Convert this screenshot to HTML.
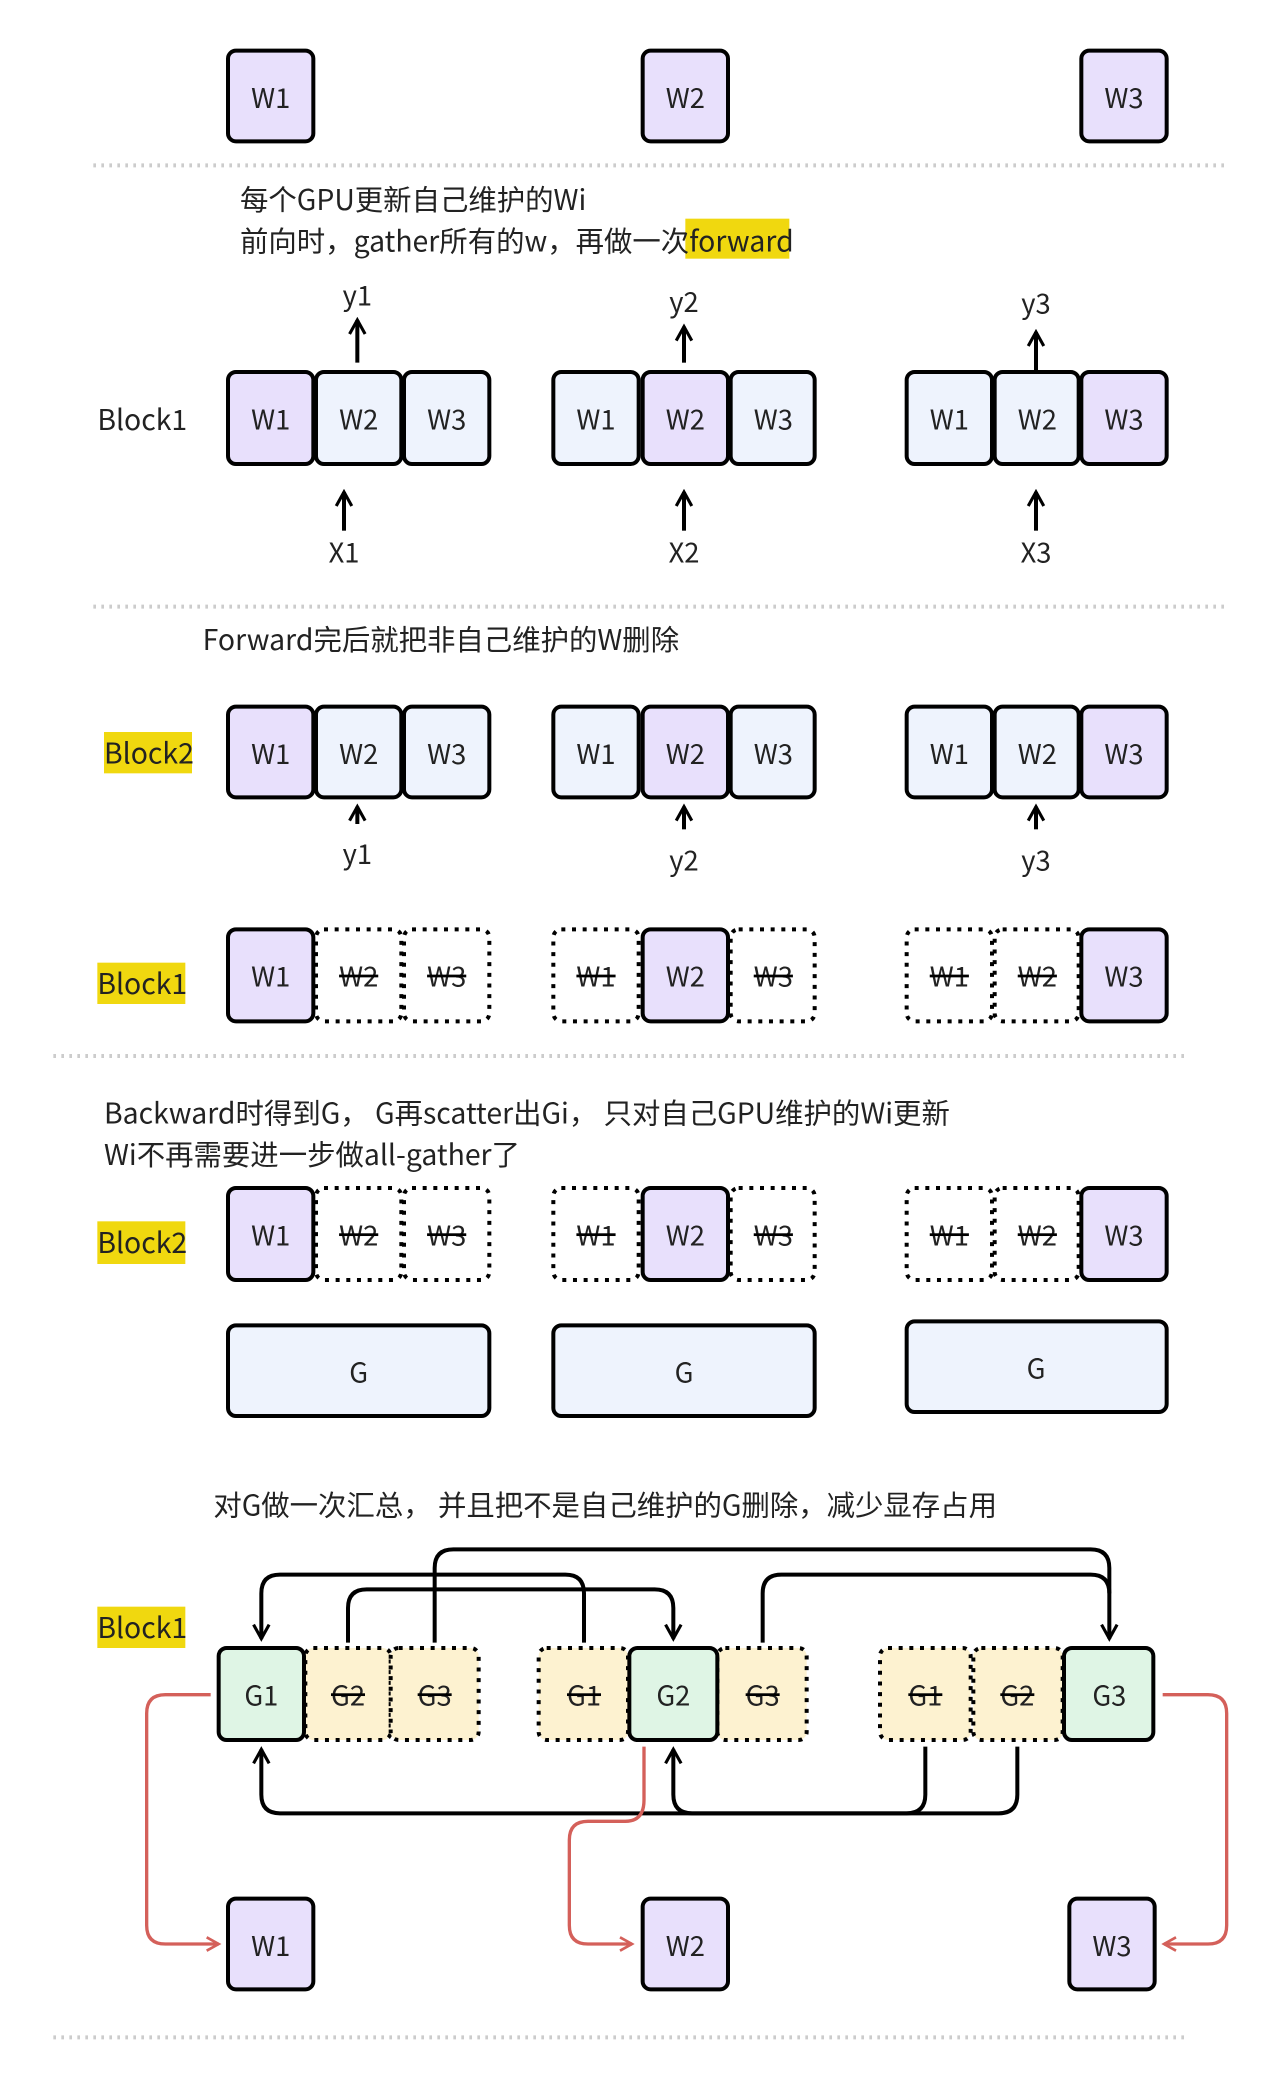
<!DOCTYPE html>
<html><head><meta charset="utf-8"><style>
html,body{margin:0;padding:0;background:#fff;}
svg{display:block;}
text{font-family:"Noto Sans CJK SC","Liberation Sans",sans-serif;fill:#222;}
</style></head><body>
<svg width="1288" height="2082" viewBox="0 0 966 1561.5" xmlns="http://www.w3.org/2000/svg">
<defs>
<marker id="ar" viewBox="0 0 12 12" refX="10" refY="6" markerWidth="12" markerHeight="12" orient="auto" markerUnits="userSpaceOnUse"><path d="M1,1 L10,6 L1,11" fill="none" stroke="#d4605a" stroke-width="2"/></marker>
<marker id="ak" viewBox="0 0 12 12" refX="10" refY="6" markerWidth="14" markerHeight="14" orient="auto" markerUnits="userSpaceOnUse"><path d="M1,1 L10,6 L1,11" fill="none" stroke="#000" stroke-width="2"/></marker>
</defs>
<g stroke="#ccc" stroke-width="3" stroke-dasharray="2,4">
<line x1="70" y1="124" x2="922" y2="124"/>
<line x1="70" y1="455" x2="922" y2="455"/>
<line x1="40" y1="792" x2="892" y2="792"/>
<line x1="40" y1="1528" x2="892" y2="1528"/>
</g>
<g font-size="20.5" text-anchor="middle" dominant-baseline="central">
<g stroke="#000" stroke-width="3">
<rect x="171" y="38" width="64" height="68" rx="6" fill="#e8e0fc"/>
<rect x="482" y="38" width="64" height="68" rx="6" fill="#e8e0fc"/>
<rect x="811" y="38" width="64" height="68" rx="6" fill="#e8e0fc"/>
</g>
<text x="203" y="72">W1</text><text x="514" y="72">W2</text><text x="843" y="72">W3</text>

<rect x="514" y="164" width="78" height="30" fill="#f0d80f"/>
<g font-size="21.3">
<text x="180" y="149" text-anchor="start">每个GPU更新自己维护的Wi</text>
<text x="180" y="180" text-anchor="start">前向时，gather所有的w，再做一次forward</text>
<text x="73" y="314" text-anchor="start">Block1</text>
</g>
<g stroke="#000" stroke-width="3">
<rect x="171" y="279" width="64" height="69" rx="6" fill="#e8e0fc"/>
<rect x="237" y="279" width="64" height="69" rx="6" fill="#eef3fd"/>
<rect x="303" y="279" width="64" height="69" rx="6" fill="#eef3fd"/>
<rect x="415" y="279" width="64" height="69" rx="6" fill="#eef3fd"/>
<rect x="482" y="279" width="64" height="69" rx="6" fill="#e8e0fc"/>
<rect x="548" y="279" width="63" height="69" rx="6" fill="#eef3fd"/>
<rect x="680" y="279" width="64" height="69" rx="6" fill="#eef3fd"/>
<rect x="746" y="279" width="63" height="69" rx="6" fill="#eef3fd"/>
<rect x="811" y="279" width="64" height="69" rx="6" fill="#e8e0fc"/>
</g>
<text x="203" y="313">W1</text><text x="269" y="313">W2</text><text x="335" y="313">W3</text>
<text x="447" y="313">W1</text><text x="514" y="313">W2</text><text x="580" y="313">W3</text>
<text x="712" y="313">W1</text><text x="778" y="313">W2</text><text x="843" y="313">W3</text>
<g stroke="#000" stroke-width="3" marker-end="url(#ak)">
<line x1="268" y1="272" x2="268" y2="240"/>
<line x1="513" y1="272" x2="513" y2="245"/>
<line x1="777" y1="279" x2="777" y2="249"/>
<line x1="258" y1="398" x2="258" y2="369"/>
<line x1="513" y1="398" x2="513" y2="369"/>
<line x1="777" y1="398" x2="777" y2="369"/>
</g>
<text x="268" y="220">y1</text><text x="513" y="225">y2</text><text x="777" y="226">y3</text>
<text x="258" y="413">X1</text><text x="513" y="413">X2</text><text x="777" y="413">X3</text>

<g font-size="21.3">
<text x="152" y="479" text-anchor="start">Forward完后就把非自己维护的W删除</text>
</g>
<rect x="78" y="549" width="66" height="31" fill="#f0d80f"/>
<text x="78" y="564" text-anchor="start" font-size="21.3">Block2</text>
<g stroke="#000" stroke-width="3">
<rect x="171" y="530" width="64" height="68" rx="6" fill="#e8e0fc"/>
<rect x="237" y="530" width="64" height="68" rx="6" fill="#eef3fd"/>
<rect x="303" y="530" width="64" height="68" rx="6" fill="#eef3fd"/>
<rect x="415" y="530" width="64" height="68" rx="6" fill="#eef3fd"/>
<rect x="482" y="530" width="64" height="68" rx="6" fill="#e8e0fc"/>
<rect x="548" y="530" width="63" height="68" rx="6" fill="#eef3fd"/>
<rect x="680" y="530" width="64" height="68" rx="6" fill="#eef3fd"/>
<rect x="746" y="530" width="63" height="68" rx="6" fill="#eef3fd"/>
<rect x="811" y="530" width="64" height="68" rx="6" fill="#e8e0fc"/>
</g>
<text x="203" y="564">W1</text><text x="269" y="564">W2</text><text x="335" y="564">W3</text>
<text x="447" y="564">W1</text><text x="514" y="564">W2</text><text x="580" y="564">W3</text>
<text x="712" y="564">W1</text><text x="778" y="564">W2</text><text x="843" y="564">W3</text>
<g stroke="#000" stroke-width="3" marker-end="url(#ak)">
<line x1="268" y1="618" x2="268" y2="605"/>
<line x1="513" y1="622" x2="513" y2="605"/>
<line x1="777" y1="622" x2="777" y2="605"/>
</g>
<text x="268" y="639">y1</text><text x="513" y="644">y2</text><text x="777" y="644">y3</text>

<rect x="73" y="722" width="66" height="31" fill="#f0d80f"/>
<text x="73" y="737" text-anchor="start" font-size="21.3">Block1</text>
<g stroke="#000" stroke-width="3">
<rect x="171" y="697" width="64" height="69" rx="6" fill="#e8e0fc"/>
<rect x="482" y="697" width="64" height="69" rx="6" fill="#e8e0fc"/>
<rect x="811" y="697" width="64" height="69" rx="6" fill="#e8e0fc"/>
</g>
<g stroke="#000" stroke-width="3" stroke-dasharray="3,5" fill="none">
<rect x="237" y="697" width="64" height="69" rx="6"/>
<rect x="303" y="697" width="64" height="69" rx="6"/>
<rect x="415" y="697" width="64" height="69" rx="6"/>
<rect x="548" y="697" width="63" height="69" rx="6"/>
<rect x="680" y="697" width="64" height="69" rx="6"/>
<rect x="746" y="697" width="63" height="69" rx="6"/>
</g>
<text x="203" y="731">W1</text><text x="514" y="731">W2</text><text x="843" y="731">W3</text>
<g text-decoration="line-through">
<text x="269" y="731">W2</text><text x="335" y="731">W3</text>
<text x="447" y="731">W1</text><text x="580" y="731">W3</text>
<text x="712" y="731">W1</text><text x="778" y="731">W2</text>
</g>

<g font-size="21.3">
<text x="78" y="834" text-anchor="start">Backward时得到G， G再scatter出Gi， 只对自己GPU维护的Wi更新</text>
<text x="78" y="865" text-anchor="start">Wi不再需要进一步做all-gather了</text>
</g>
<rect x="73" y="916" width="66" height="32" fill="#f0d80f"/>
<text x="73" y="931" text-anchor="start" font-size="21.3">Block2</text>
<g stroke="#000" stroke-width="3">
<rect x="171" y="891" width="64" height="69" rx="6" fill="#e8e0fc"/>
<rect x="482" y="891" width="64" height="69" rx="6" fill="#e8e0fc"/>
<rect x="811" y="891" width="64" height="69" rx="6" fill="#e8e0fc"/>
</g>
<g stroke="#000" stroke-width="3" stroke-dasharray="3,5" fill="none">
<rect x="237" y="891" width="64" height="69" rx="6"/>
<rect x="303" y="891" width="64" height="69" rx="6"/>
<rect x="415" y="891" width="64" height="69" rx="6"/>
<rect x="548" y="891" width="63" height="69" rx="6"/>
<rect x="680" y="891" width="64" height="69" rx="6"/>
<rect x="746" y="891" width="63" height="69" rx="6"/>
</g>
<text x="203" y="925">W1</text><text x="514" y="925">W2</text><text x="843" y="925">W3</text>
<g text-decoration="line-through">
<text x="269" y="925">W2</text><text x="335" y="925">W3</text>
<text x="447" y="925">W1</text><text x="580" y="925">W3</text>
<text x="712" y="925">W1</text><text x="778" y="925">W2</text>
</g>
<g stroke="#000" stroke-width="3" fill="#eef3fd">
<rect x="171" y="994" width="196" height="68" rx="6"/>
<rect x="415" y="994" width="196" height="68" rx="6"/>
<rect x="680" y="991" width="195" height="68" rx="6"/>
</g>
<text x="269" y="1028">G</text><text x="513" y="1028">G</text><text x="777" y="1025">G</text>

<text x="160" y="1128" text-anchor="start" font-size="21.3">对G做一次汇总， 并且把不是自己维护的G删除，减少显存占用</text>
<rect x="73" y="1205" width="66" height="31" fill="#f0d80f"/>
<text x="73" y="1220" text-anchor="start" font-size="21.3">Block1</text>

<g stroke="#000" stroke-width="3" fill="#fdf2d0" stroke-dasharray="3,5">
<rect x="229" y="1236" width="64" height="69" rx="6"/>
<rect x="293" y="1236" width="66" height="69" rx="6"/>
<rect x="404" y="1236" width="67" height="69" rx="6"/>
<rect x="538" y="1236" width="67" height="69" rx="6"/>
<rect x="660" y="1236" width="68" height="69" rx="6"/>
<rect x="730" y="1236" width="67" height="69" rx="6"/>
</g>
<g stroke="#000" stroke-width="3" fill="#dff5e5">
<rect x="164" y="1236" width="64" height="69" rx="6"/>
<rect x="472" y="1236" width="66" height="69" rx="6"/>
<rect x="798" y="1236" width="67" height="69" rx="6"/>
</g>
<text x="196" y="1270">G1</text><text x="505" y="1270">G2</text><text x="832" y="1270">G3</text>
<g text-decoration="line-through">
<text x="261" y="1270">G2</text><text x="326" y="1270">G3</text>
<text x="438" y="1270">G1</text><text x="572" y="1270">G3</text>
<text x="694" y="1270">G1</text><text x="763" y="1270">G2</text>
</g>
<g stroke="#000" stroke-width="3" fill="none">
<path d="M438,1232 V1195 Q438,1181 424,1181 H210 Q196,1181 196,1195 V1229" marker-end="url(#ak)"/>
<path d="M261,1232 V1206 Q261,1192 275,1192 H491 Q505,1192 505,1206 V1229" marker-end="url(#ak)"/>
<path d="M326,1232 V1176 Q326,1162 340,1162 H818 Q832,1162 832,1176 V1229" marker-end="url(#ak)"/>
<path d="M572,1232 V1195 Q572,1181 586,1181 H818 Q832,1181 832,1195"/>
<path d="M694,1310 V1346 Q694,1360 680,1360 H210 Q196,1360 196,1346 V1312" marker-end="url(#ak)"/>
<path d="M763,1310 V1346 Q763,1360 749,1360 H519 Q505,1360 505,1346 V1312" marker-end="url(#ak)"/>
</g>
<g stroke="#d4605a" stroke-width="2.5" fill="none" marker-end="url(#ar)">
<path d="M158,1271 H124 Q110,1271 110,1285 V1444 Q110,1458 124,1458 H164"/>
<path d="M483,1310 V1350 Q483,1366 469,1366 H441 Q427,1366 427,1380 V1444 Q427,1458 441,1458 H474"/>
<path d="M872,1271 H906 Q920,1271 920,1285 V1444 Q920,1458 906,1458 H873"/>
</g>
<g stroke="#000" stroke-width="3" fill="#e8e0fc">
<rect x="171" y="1424" width="64" height="68" rx="6"/>
<rect x="482" y="1424" width="64" height="68" rx="6"/>
<rect x="802" y="1424" width="64" height="68" rx="6"/>
</g>
<text x="203" y="1458">W1</text><text x="514" y="1458">W2</text><text x="834" y="1458">W3</text>
</g>
</svg>
</body></html>
